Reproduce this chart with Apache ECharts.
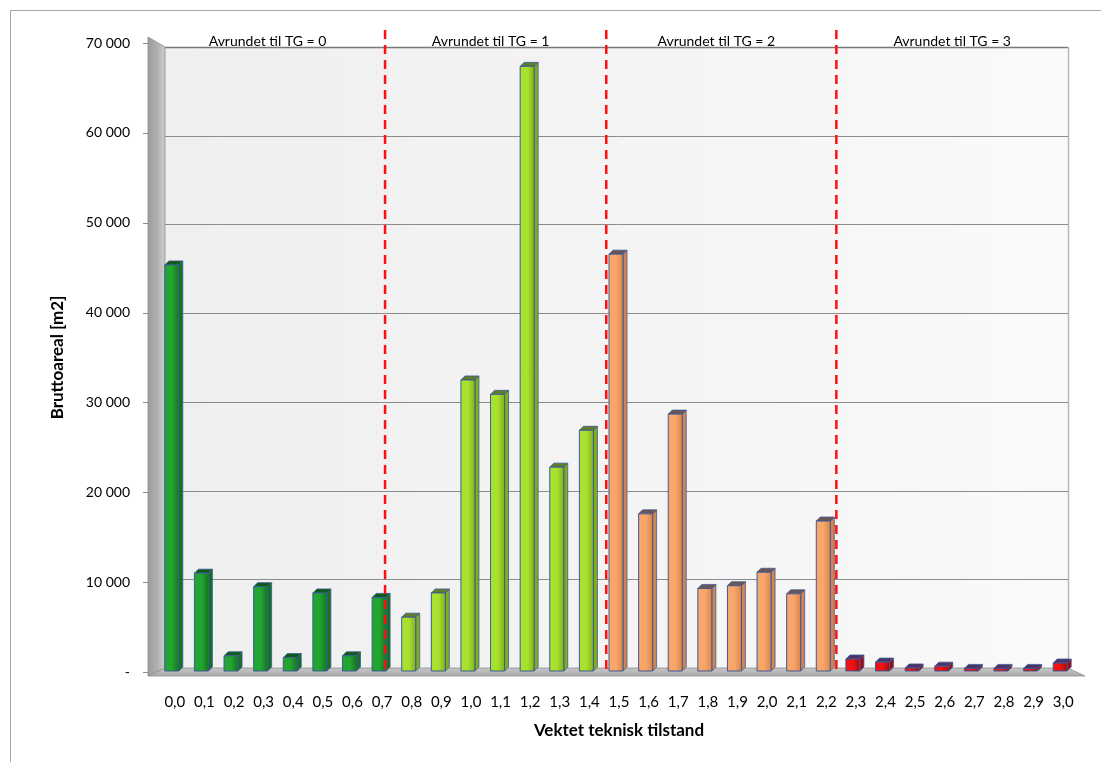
<!DOCTYPE html>
<html>
<head>
<meta charset="utf-8">
<script src="https://cdn.jsdelivr.net/npm/echarts@6/dist/echarts.min.js"></script>
<style>
  html, body { margin: 0; padding: 0; background: #ffffff; }
  #chart { width: 1101px; height: 762px; }
</style>
</head>
<body>
<div id="chart"></div>
<script>
// Weighted technical condition (category) and gross area in m2
const categories = ['0,0','0,1','0,2','0,3','0,4','0,5','0,6','0,7','0,8','0,9',
                    '1,0','1,1','1,2','1,3','1,4','1,5','1,6','1,7','1,8','1,9',
                    '2,0','2,1','2,2','2,3','2,4','2,5','2,6','2,7','2,8','2,9','3,0'];
const values = [45300, 11000, 1800, 9500, 1600, 8800, 1800, 8300, 6100, 8800,
                32500, 30900, 67400, 22800, 26900, 46500, 17600, 28700, 9300, 9600,
                11100, 8700, 16800, 1450, 1100, 450, 650, 400, 400, 400, 1000];
// Rounded TG class of each category
const tgGroup = [0,0,0,0,0,0,0,0, 1,1,1,1,1,1,1, 2,2,2,2,2,2,2,2, 3,3,3,3,3,3,3,3];
const groupNames = ['Avrundet til TG = 0', 'Avrundet til TG = 1', 'Avrundet til TG = 2', 'Avrundet til TG = 3'];
// Class boundaries, in category-index units
const dividers = [7.1, 14.57, 22.34];
const yTicks = [0, 10000, 20000, 30000, 40000, 50000, 60000, 70000];

const palette = [
  { front: '#22a631', side: '#12731d', top: '#0e5a17' },
  { front: '#a9e22e', side: '#7eae1c', top: '#5f7d2a' },
  { front: '#f9a66a', side: '#d5844c', top: '#6e5554' },
  { front: '#ee1212', side: '#a80808', top: '#4a3466' }
];
const edge = '#3d5a99';
const FONT = 'Lato, "Open Sans", sans-serif';

const X_MIN = -0.5, X_MAX = categories.length - 0.5;
const Y_MAX = 70000;

function fmtThousands(v) {
  if (v === 0) return '-';
  return String(v).replace(/\B(?=(\d{3})+(?!\d))/g, ' ');
}

const chart = echarts.init(document.getElementById('chart'), null, { renderer: 'canvas' });

const bounds = [X_MIN].concat(dividers, [X_MAX]);
const groupData = groupNames.map((n, i) => [(bounds[i] + bounds[i + 1]) / 2, i]);

chart.setOption({
  animation: false,
  backgroundColor: '#ffffff',
  graphic: [{
    type: 'rect',
    shape: { x: 10.5, y: 10.5, width: 1200, height: 1000 },
    style: { fill: 'none', stroke: '#a6a6a6', lineWidth: 1 },
    silent: true, z: -10
  }],
  grid: { left: 160, right: 23, top: 43, bottom: 90 },
  xAxis: [{
    type: 'category',
    data: categories,
    axisLine: { show: false },
    axisTick: { show: false },
    axisLabel: { color: '#000', fontFamily: FONT, fontSize: 15, margin: 23, interval: 0 },
    name: 'Vektet teknisk tilstand',
    nameLocation: 'middle',
    nameGap: 50,
    nameTextStyle: { color: '#000', fontFamily: FONT, fontSize: 17, fontWeight: 'bold' }
  }, {
    type: 'value', min: X_MIN, max: X_MAX, show: false
  }],
  yAxis: {
    type: 'value',
    min: 0, max: Y_MAX, interval: 10000,
    axisLine: { show: false },
    axisTick: { show: false },
    splitLine: { show: false },
    axisLabel: { color: '#000', fontFamily: FONT, fontSize: 14, margin: 30, formatter: fmtThousands },
    name: 'Bruttoareal [m2]',
    nameLocation: 'middle',
    nameGap: 94,
    nameTextStyle: { color: '#000', fontFamily: FONT, fontSize: 17, fontWeight: 'bold' }
  },
  series: [
    {
      // walls, floor and gridlines of the 3D box
      type: 'custom',
      xAxisIndex: 1,
      silent: true,
      z: 1,
      data: [[0, 0]],
      renderItem(params, api) {
        const tl = api.coord([X_MIN, Y_MAX]);
        const br = api.coord([X_MAX, 0]);
        const L = tl[0] - 12, I = tl[0] + 5, R = br[0] - 10;
        const T = tl[1] + 4, B = br[1] - 4, F = br[1] + 4;
        const k = (B - T) / (br[1] - tl[1]);
        const children = [];
        children.push({
          type: 'rect', shape: { x: I, y: T, width: R - I, height: B - T },
          style: {
            fill: new echarts.graphic.LinearGradient(0, 0, 1, 0, [
              { offset: 0, color: '#efefef' }, { offset: 0.6, color: '#f5f5f5' }, { offset: 1, color: '#fafafa' }
            ])
          }
        });
        yTicks.forEach(v => {
          if (v === 0) return;
          const y = Math.round(B + (api.coord([0, v])[1] - br[1]) * k) + 0.5;
          children.push({
            type: 'line', shape: { x1: I, y1: y, x2: R, y2: y },
            style: { stroke: v === Y_MAX ? '#7a7a7a' : '#8c8c8c', lineWidth: v === Y_MAX ? 1.5 : 1 }
          });
        });
        children.push({
          type: 'line', shape: { x1: R + 0.5, y1: T, x2: R + 0.5, y2: B },
          style: { stroke: '#b8b8b8', lineWidth: 1.5 }
        });
        children.push({
          type: 'polygon', shape: { points: [[L, tl[1] - 6], [I, T], [I, B], [L, F]] },
          style: {
            fill: new echarts.graphic.LinearGradient(0, 0, 1, 0, [
              { offset: 0, color: '#9c9c9c' }, { offset: 0.55, color: '#b0b0b0' }, { offset: 1, color: '#cfcfcf' }
            ]),
            stroke: '#8a8a8a', lineWidth: 0.8
          }
        });
        children.push({
          type: 'polygon', shape: { points: [[L, F], [I, B], [R, B], [br[0] + 7, F]] },
          style: {
            fill: new echarts.graphic.LinearGradient(0, 0, 0, 1, [
              { offset: 0, color: '#c8c8c8' }, { offset: 1, color: '#a8a8a8' }
            ]),
            stroke: '#8f8f8f', lineWidth: 0.8
          }
        });
        yTicks.forEach(v => {
          const y = Math.round(api.coord([0, v])[1]) + 0.5;
          children.push({
            type: 'line', shape: { x1: L - 5, y1: y, x2: L, y2: y },
            style: { stroke: '#8a8a8a', lineWidth: 1 }
          });
        });
        return { type: 'group', children };
      }
    },
    {
      // 3D-style columns
      type: 'custom',
      name: 'Bruttoareal',
      xAxisIndex: 0,
      z: 2,
      data: values.map((v, i) => [i, v, tgGroup[i]]),
      encode: { x: 0, y: 1 },
      renderItem(params, api) {
        const c = api.coord([api.value(0), api.value(1)]);
        const z0 = api.coord([api.value(0), 0]);
        const col = palette[api.value(2)];
        const x0 = c[0] - 10, x1 = c[0] + 4, dd = 4;
        const yb = z0[1] - 1;
        const yt = Math.min(c[1], yb - 2);
        return {
          type: 'group',
          children: [
            { type: 'polygon', shape: { points: [[x1, yb], [x1 + dd, yb - dd], [x1 + dd, yt - dd], [x1, yt]] },
              style: { fill: col.side, stroke: edge, lineWidth: 0.8 } },
            { type: 'polygon', shape: { points: [[x0, yt], [x0 + dd, yt - dd], [x1 + dd, yt - dd], [x1, yt]] },
              style: { fill: col.top, stroke: edge, lineWidth: 0.8 } },
            { type: 'rect', shape: { x: x0, y: yt, width: x1 - x0, height: yb - yt },
              style: {
                fill: new echarts.graphic.LinearGradient(0, 0, 1, 0, [
                  { offset: 0, color: col.front }, { offset: 0.5, color: col.front }, { offset: 1, color: col.side }
                ]),
                stroke: edge, lineWidth: 1
              } }
          ]
        };
      }
    },
    {
      // dashed class boundaries
      type: 'custom',
      xAxisIndex: 1,
      silent: true,
      z: 3,
      data: dividers.map(d => [d, 0]),
      renderItem(params, api) {
        const top = api.coord([api.value(0), Y_MAX]);
        const bot = api.coord([api.value(0), 0]);
        return {
          type: 'line',
          shape: { x1: top[0], y1: top[1] - 13, x2: bot[0], y2: bot[1] },
          style: { stroke: '#ff1010', lineWidth: 2.5, lineDash: [9, 6] }
        };
      }
    },
    {
      // class captions above the plot
      type: 'custom',
      xAxisIndex: 1,
      silent: true,
      z: 4,
      data: groupData,
      renderItem(params, api) {
        const p = api.coord([api.value(0), Y_MAX]);
        return {
          type: 'text',
          style: {
            text: groupNames[api.value(1)],
            x: p[0] - 5, y: p[1] - 2,
            align: 'center', verticalAlign: 'middle',
            font: '14px ' + FONT, fill: '#000'
          }
        };
      }
    }
  ]
});
</script>
</body>
</html>
